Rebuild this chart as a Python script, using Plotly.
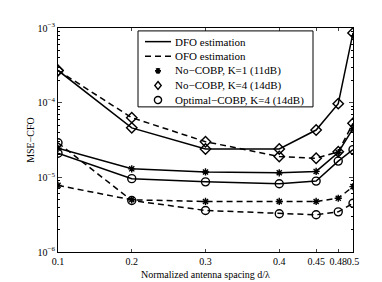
import plotly.graph_objects as go

x = [0.1, 0.2, 0.3, 0.4, 0.45, 0.48, 0.5]
x_ticks = [0.1, 0.2, 0.3, 0.4, 0.45, 0.48, 0.5]
x_ticktext = ["0.1", "0.2", "0.3", "0.4", "0.45", "0.48", "0.5"]

dfo_k1 = [2.45e-5, 1.3e-5, 1.18e-5, 1.15e-5, 1.2e-5, 2.15e-5, 4.5e-5]
dfo_k4 = [2.7e-4, 4.6e-5, 2.4e-5, 2.4e-5, 4.3e-5, 9.7e-5, 8.6e-4]
dfo_opt = [2.1e-5, 9.6e-6, 8.7e-6, 8.2e-6, 8.9e-6, 1.65e-5, 2.35e-5]
ofo_k1 = [7.8e-6, 5.0e-6, 4.75e-6, 4.75e-6, 4.75e-6, 5.25e-6, 7.5e-6]
ofo_k4 = [2.7e-4, 6.3e-5, 3.0e-5, 1.9e-5, 1.8e-5, 2.2e-5, 5.3e-5]
ofo_opt = [2.9e-5, 4.9e-6, 3.6e-6, 3.25e-6, 3.15e-6, 3.45e-6, 4.5e-6]

legend_names = ["DFO estimation", "OFO estimation", "No\u2212COBP, K=1 (11dB)",
                "No\u2212COBP, K=4 (14dB)", "Optimal\u2212COBP, K=4 (14dB)"]

y_ticks = [1e-6, 1e-5, 1e-4, 1e-3]
y_ticktext = ["10<sup>\u22126</sup>", "10<sup>\u22125</sup>", "10<sup>\u22124</sup>", "10<sup>\u22123</sup>"]

font = "Liberation Serif"
DASH = "6px,4px"
W, H = 382, 282
ML, MR, MT, MB = 50, 37, 20, 32
PW, PH = W - ML - MR, H - MT - MB

fig = go.Figure()

def mk(sym, size):
    return dict(symbol=sym, size=size, color="black", line=dict(color="black", width=1.4))

def add(yv, dash, sym, size):
    fig.add_trace(go.Scatter(
        x=x, y=yv, mode="lines+markers", showlegend=False,
        line=dict(color="black", width=1.5, dash=dash),
        marker=mk(sym, size)))

add(dfo_k1, "solid", "asterisk-open", 6)
add(dfo_k4, "solid", "diamond-open", 8)
add(dfo_opt, "solid", "circle-open", 8)
add(ofo_k1, DASH, "asterisk-open", 6)
add(ofo_k4, DASH, "diamond-open", 8)
add(ofo_opt, DASH, "circle-open", 8)

# ---- hand-drawn legend box (pixel layout converted to paper fractions) ----
def px(v):
    return (v - ML) / PW

def py(v):
    return (MT + PH - v) / PH

shapes = []
annotations = []
box = (130, 23, 305, 101)
shapes.append(dict(type="rect", xref="paper", yref="paper",
                   x0=px(box[0]), x1=px(box[2]), y0=py(box[3]), y1=py(box[1]),
                   fillcolor="white", line=dict(color="black", width=1)))
rows = [34, 49, 64, 79, 94]
sx0, sx1, mx, tx = 137, 163, 150, 165
line_style = dict(color="black", width=1.5)
shapes.append(dict(type="line", xref="paper", yref="paper",
                   x0=px(sx0), x1=px(sx1), y0=py(rows[0]), y1=py(rows[0]), line=line_style))
shapes.append(dict(type="line", xref="paper", yref="paper",
                   x0=px(sx0), x1=px(sx1), y0=py(rows[1]), y1=py(rows[1]),
                   line=dict(color="black", width=1.5, dash=DASH)))
# asterisk sample
r = 3
cy = rows[2]
ast = (f"M{px(mx-r)},{py(cy)} L{px(mx+r)},{py(cy)} "
       f"M{px(mx-r*0.6)},{py(cy-r*0.85)} L{px(mx+r*0.6)},{py(cy+r*0.85)} "
       f"M{px(mx-r*0.6)},{py(cy+r*0.85)} L{px(mx+r*0.6)},{py(cy-r*0.85)} "
       f"M{px(mx)},{py(cy-r)} L{px(mx)},{py(cy+r)}")
shapes.append(dict(type="path", xref="paper", yref="paper", path=ast,
                   line=dict(color="black", width=1.6)))
# diamond sample
r = 4
cy = rows[3]
dia = (f"M{px(mx)},{py(cy-r)} L{px(mx+r*0.8)},{py(cy)} L{px(mx)},{py(cy+r)} "
       f"L{px(mx-r*0.8)},{py(cy)} Z")
shapes.append(dict(type="path", xref="paper", yref="paper", path=dia,
                   fillcolor="white", line=dict(color="black", width=1.4)))
# circle sample
r = 3.6
cy = rows[4]
shapes.append(dict(type="circle", xref="paper", yref="paper",
                   x0=px(mx - r), x1=px(mx + r), y0=py(cy + r), y1=py(cy - r),
                   fillcolor="white", line=dict(color="black", width=1.4)))
for name, ry in zip(legend_names, rows):
    annotations.append(dict(text=name, xref="paper", yref="paper", x=px(tx), y=py(ry),
                            xanchor="left", yanchor="middle", showarrow=False,
                            font=dict(family=font, size=11, color="black")))

minor_y = [m * 10 ** e for e in (-6, -5, -4) for m in range(2, 10)]

fig.update_layout(
    width=W, height=H,
    margin=dict(l=ML, r=MR, t=MT, b=MB),
    paper_bgcolor="white", plot_bgcolor="white",
    font=dict(family=font, size=10, color="black"),
    showlegend=False,
    shapes=shapes,
    annotations=annotations,
    xaxis=dict(range=[0.1, 0.5], tickvals=x_ticks, ticktext=x_ticktext,
               tickangle=0,
               ticks="inside", ticklen=3, showline=True, linecolor="black",
               linewidth=1, mirror="ticks", showgrid=False, zeroline=False,
               tickfont=dict(family=font, size=10),
               title=dict(text="Normalized antenna spacing d/\u03bb", standoff=4,
                          font=dict(family=font, size=10))),
    yaxis=dict(type="log", range=[-6, -3], tickvals=y_ticks, ticktext=y_ticktext,
               ticks="inside", ticklen=4, showline=True, linecolor="black",
               linewidth=1, mirror="ticks", showgrid=False, zeroline=False,
               minor=dict(tickvals=minor_y, ticks="inside", ticklen=2, tickcolor="black"),
               tickfont=dict(family=font, size=10),
               title=dict(text="MSE\u2212CFO", standoff=1, font=dict(family=font, size=10))),
)

fig.write_html("out.html")
